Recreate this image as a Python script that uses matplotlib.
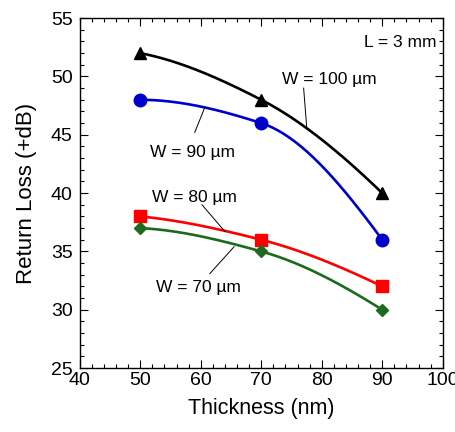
import numpy as np
import matplotlib
matplotlib.use("Agg")
import matplotlib.pyplot as plt
from matplotlib.ticker import MultipleLocator

plt.rcParams['font.family'] = ['Liberation Sans', 'DejaVu Sans']

# data
thickness = [50, 70, 90]
rl_w100 = [52, 48, 40]
rl_w90 = [48, 46, 36]
rl_w80 = [38, 36, 32]
rl_w70 = [37, 35, 30]

series = [
    (rl_w100, 'black', '^', 9),
    (rl_w90, '#0000CC', 'o', 9),
    (rl_w80, '#FF0000', 's', 8),
    (rl_w70, '#1B6B1B', 'D', 6.5),
]


def pchip(x, y, xs):
    # monotone cubic through the points (no overshoot)
    x = np.asarray(x, float)
    y = np.asarray(y, float)
    h = np.diff(x)
    d = np.diff(y) / h
    n = len(x)
    m = np.zeros(n)
    for k in range(1, n - 1):
        if d[k - 1] * d[k] > 0:
            w1 = 2 * h[k] + h[k - 1]
            w2 = h[k] + 2 * h[k - 1]
            m[k] = (w1 + w2) / (w1 / d[k - 1] + w2 / d[k])
    for k, j, jn in [(0, 0, 1), (n - 1, n - 2, n - 3)]:
        hj, hn = h[j], h[jn] if k == 0 else h[jn + 0]
        e = ((2 * hj + hn) * d[j] - hj * d[jn]) / (hj + hn)
        if np.sign(e) != np.sign(d[j]):
            e = 0.0
        elif np.sign(d[j]) != np.sign(d[jn]) and abs(e) > 3 * abs(d[j]):
            e = 3 * d[j]
        m[k] = e
    out = np.empty_like(xs)
    for i, xv in enumerate(xs):
        k = min(np.searchsorted(x, xv, side='right') - 1, n - 2)
        t = (xv - x[k]) / h[k]
        h00 = 2 * t**3 - 3 * t**2 + 1
        h10 = t**3 - 2 * t**2 + t
        h01 = -2 * t**3 + 3 * t**2
        h11 = t**3 - t**2
        out[i] = h00 * y[k] + h10 * h[k] * m[k] + h01 * y[k + 1] + h11 * h[k] * m[k + 1]
    return out


fig = plt.figure(figsize=(4.56, 4.32), dpi=100)
ax = fig.add_axes([0.175, 0.148, 0.796, 0.81])

xs = np.linspace(thickness[0], thickness[-1], 200)
for vals, col, mk, ms in series:
    ax.plot(xs, pchip(thickness, vals, xs), color=col, lw=1.9, zorder=2)
    ax.plot(thickness, vals, linestyle='none', marker=mk, ms=ms,
            color=col, zorder=3)

# labels with leader lines
fs = 12.5
ax.text(81.3, 49.7, 'W = 100 µm', fontsize=fs, ha='center', va='center')
ax.plot([77.0, 77.5], [49.0, 45.7], color='black', lw=0.7)
ax.text(58.7, 43.5, 'W = 90 µm', fontsize=fs, ha='center', va='center')
ax.plot([59.0, 60.7], [45.2, 47.4], color='black', lw=0.7)
ax.text(58.9, 39.6, 'W = 80 µm', fontsize=fs, ha='center', va='center')
ax.plot([60.2, 64.0], [39.0, 36.7], color='black', lw=0.7)
ax.text(59.6, 31.9, 'W = 70 µm', fontsize=fs, ha='center', va='center')
ax.plot([61.5, 65.5], [33.1, 35.4], color='black', lw=0.7)
ax.text(99.0, 52.9, 'L = 3 mm', fontsize=fs, ha='right', va='center')

ax.set_xlim(40, 100)
ax.set_ylim(25, 55)
ax.xaxis.set_major_locator(MultipleLocator(10))
ax.xaxis.set_minor_locator(MultipleLocator(2))
ax.yaxis.set_major_locator(MultipleLocator(5))
ax.yaxis.set_minor_locator(MultipleLocator(1))
ax.tick_params(which='both', direction='in', top=True, right=True,
               width=0.8, labelsize=14)
ax.tick_params(which='major', length=5.5)
ax.tick_params(which='minor', length=3)
ax.tick_params(axis='x', pad=3)
ax.tick_params(axis='y', pad=5)
for sp in ax.spines.values():
    sp.set_linewidth(1.0)

ax.set_xlabel('Thickness (nm)', fontsize=15.5, labelpad=6)
ax.set_ylabel('Return Loss (+dB)', fontsize=16, labelpad=10)

fig.savefig('out.png', dpi=100)
